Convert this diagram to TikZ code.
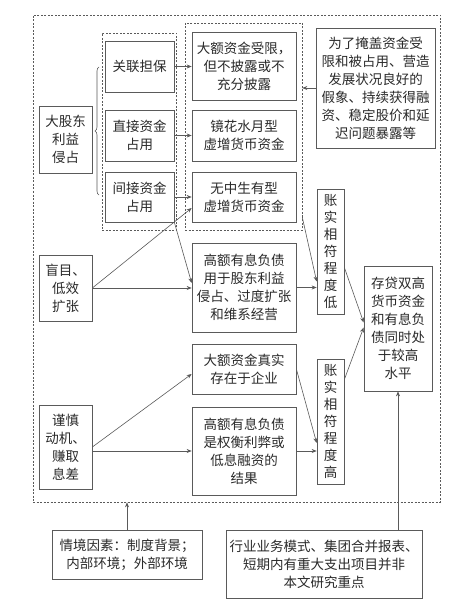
\documentclass[tikz,border=0pt]{standalone}
\usepackage{fontspec}
\newfontfamily\cjk{Noto Sans CJK SC}
\usetikzlibrary{arrows.meta,calc,decorations.pathreplacing}
\definecolor{ln}{HTML}{5A5A5A}
\definecolor{tx}{HTML}{2A2A2A}
\tikzset{
  box/.style={draw=ln, line width=0.7pt, rectangle, inner sep=0pt, align=center,
    text=tx, font=\cjk\fontsize{13.5}{18}\selectfont},
  vbox/.style={box, font=\cjk\fontsize{13.5}{17}\selectfont},
  dbox/.style={draw=ln, line width=0.6pt, rectangle, dash pattern=on 2pt off 1.5pt, inner sep=0pt},
  arr/.style={draw=ln, line width=0.6pt, -{Stealth[length=5pt,width=4pt]}},
}
\begin{document}
\begin{tikzpicture}[x=1pt,y=-1pt]
\useasboundingbox[fill=white] (0,0) rectangle (450,612);
% dashed frames
\node[dbox, minimum width=407pt, minimum height=487pt] (outer) at (236.5,258.5) {};
\node[dbox, minimum width=74pt, minimum height=197pt] (left) at (139,131.5) {};
\node[dbox, minimum width=117pt, minimum height=207pt] (mid) at (243.5,126.5) {};
% boxes
\node[box, minimum width=53pt, minimum height=67pt] (big) at (65.5,139.5) {大股东\\利益\\侵占};
\node[box, minimum width=69pt, minimum height=51pt] (gl) at (139.5,66.5) {关联担保};
\node[box, minimum width=69pt, minimum height=51pt] (zj) at (139.5,135.5) {直接资金\\占用};
\node[box, minimum width=69pt, minimum height=50pt] (jj) at (139.5,197) {间接资金\\占用};
\node[box, minimum width=104pt, minimum height=68pt] (sx) at (244,66) {大额资金受限，\\但不披露或不\\充分披露};
\node[box, minimum width=104pt, minimum height=51pt] (jh) at (244,135.5) {镜花水月型\\虚增货币资金};
\node[box, minimum width=104pt, minimum height=50pt] (wz) at (244,197) {无中生有型\\虚增货币资金};
\node[box, minimum width=119pt, minimum height=120pt] (wl) at (375.5,88) {为了掩盖资金受\\限和被占用、营造\\发展状况良好的\\假象、持续获得融\\资、稳定股价和延\\迟问题暴露等};
\node[box, minimum width=53pt, minimum height=66pt] (mm) at (65.5,288) {盲目、\\低效\\扩张};
\node[box, minimum width=104pt, minimum height=89pt] (gy) at (244,287.5) {高额有息负债\\用于股东利益\\侵占、过度扩张\\和维系经营};
\node[vbox, minimum width=27pt, minimum height=125pt] (zd) at (330.5,251.5) {账\\实\\相\\符\\程\\度\\低};
\node[box, minimum width=68pt, minimum height=125pt] (cd) at (398,328.5) {存贷双高\\货币资金\\和有息负\\债同时处\\于较高\\水平};
\node[box, minimum width=104pt, minimum height=50pt] (zs) at (244,369) {大额资金真实\\存在于企业};
\node[vbox, minimum width=27pt, minimum height=125pt] (zg) at (330.5,421.5) {账\\实\\相\\符\\程\\度\\高};
\node[box, minimum width=53pt, minimum height=84pt] (js) at (65.5,447) {谨慎\\动机、\\赚取\\息差};
\node[box, minimum width=104pt, minimum height=88pt] (qh) at (244,451) {高额有息负债\\是权衡利弊或\\低息融资的\\结果};
\node[box, minimum width=150pt, minimum height=49pt] (qj) at (127,554.5) {情境因素：制度背景；\\内部环境；外部环境};
\node[box, minimum width=196pt, minimum height=68pt] (hy) at (324,564) {行业业务模式、集团合并报表、\\短期内有重大支出项目并非\\本文研究重点};
% brace
\draw[draw=ln, line width=0.6pt, decorate, decoration={brace, amplitude=4pt}] (99,195) -- (99,67);
% arrows
\draw[arr] (gl.east) -- (gl.east -| sx.west);
\draw[arr] (zj.east) -- (zj.east -| jh.west);
\draw[arr] (jj.east) -- (jj.east -| wz.west);
\draw[arr] (wl.west) -- (wl.west -| mid.east);
\draw[arr] (mm.east) -- ($(wz.west)+(0,11)$);
\draw[arr] (mm.east) -- (mm.east -| gy.west);
\draw[arr] (jj.south east) -- ($(gy.west)+(0,-4.5)$);
\draw[arr] ($(mid.south east)+(0,-13)$) -- ($(zd.west)+(0,30)$);
\draw[arr] (gy.east) -- (gy.east -| zd.west);
\draw[arr] ($(zd.east)+(0,16)$) -- ($(cd.west)+(0,-6)$);
\draw[arr] ($(zg.east)+(0,-42)$) -- ($(cd.west)+(0,-1)$);
\draw[arr] (js.east) -- ($(zs.west)+(0,5)$);
\draw[arr] (js.east |- qh.west) -- (qh.west);
\draw[arr] (zs.east) -- ($(zg.west)+(0,21.5)$);
\draw[arr] (qh.east) -- (qh.east -| zg.west);
\draw[arr] (qj.north) -- (qj.north |- outer.south);
\draw[arr] (hy.north -| cd.south) -- (cd.south);
\end{tikzpicture}
\end{document}
